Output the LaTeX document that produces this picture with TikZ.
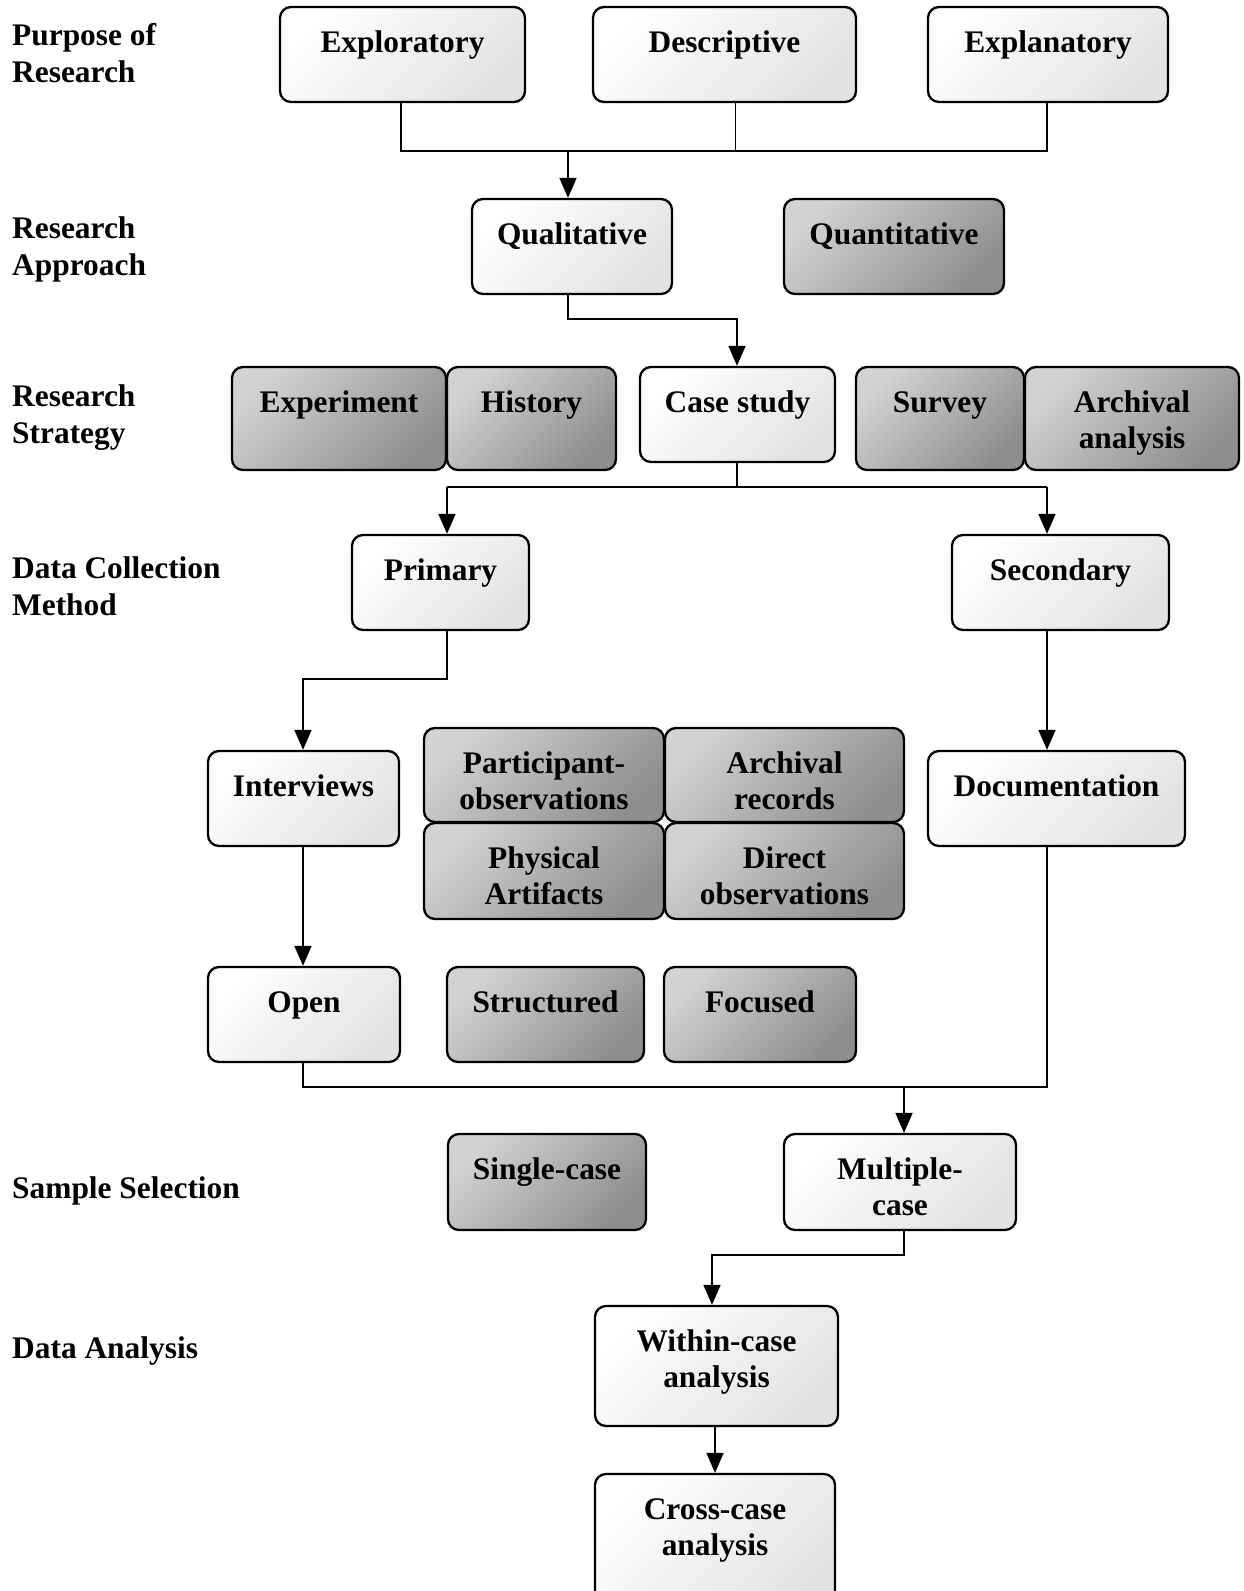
\documentclass[tikz,border=0pt]{standalone}
\usepackage{fontspec}
\setmainfont{Liberation Serif}
\usetikzlibrary{arrows.meta,calc}
\definecolor{lightA}{HTML}{FFFFFF}
\definecolor{lightB}{HTML}{E2E2E2}
\definecolor{darkA}{HTML}{D2D2D2}
\definecolor{darkB}{HTML}{8E8E8E}
\tikzset{
  boxbase/.style={draw=black, line width=2.3pt, rounded corners=11pt, inner sep=0pt, shading=axis, shading angle=45},
  lightbox/.style={boxbase, top color=lightA, bottom color=lightB, shading angle=45},
  darkbox/.style={boxbase, top color=darkA, bottom color=darkB, shading angle=45},
  txt/.style={font=\bfseries\fontsize{31.4pt}{36.5pt}\selectfont, align=center, inner sep=0pt},
  lbl/.style={font=\bfseries\fontsize{31.4pt}{36.5pt}\selectfont, align=left, inner sep=0pt, anchor=base west},
  conn/.style={line width=1.8pt, draw=black},
  arr/.style={conn, -{Triangle[length=20pt,width=17pt]}}
}
% optional #1 = number of text lines minus one
\newcommand\mybox[8][0]{%
  \node[#3, minimum width={(#6-#4)*1pt}, minimum height={(#7-#5)*1pt}] (#2) at ({(#4+#6)/2},{(#5+#7)/2}) {};
  \node[txt, anchor=base] (#2t) at ({(#4+#6)/2},{#5+45+36.5*#1}) {#8};
}
\begin{document}
\begin{tikzpicture}[x=1pt,y=-1pt]
\useasboundingbox (0,0) rectangle (1244,1591);
\clip (0,0) rectangle (1244,1591);
\fill[white] (0,0) rectangle (1244,1591);

% left labels (anchored at the baseline of the last line)
\node[lbl] (l1) at (12,82) {Purpose of\\Research};
\node[lbl] (l2) at (12,275) {Research\\Approach};
\node[lbl] (l3) at (12,443) {Research\\Strategy};
\node[lbl] (l4) at (12,615) {Data Collection\\Method};
\node[lbl] (l5) at (12,1198) {Sample Selection};
\node[lbl] (l6) at (12,1358) {Data Analysis};

% boxes
\mybox{expl}{lightbox}{280}{7}{525}{102}{Exploratory}
\mybox{desc}{lightbox}{593}{7}{856}{102}{Descriptive}
\mybox{expn}{lightbox}{928}{7}{1168}{102}{Explanatory}

\mybox{qual}{lightbox}{472}{199}{672}{294}{Qualitative}
\mybox{quan}{darkbox}{784}{199}{1004}{294}{Quantitative}

\mybox{expe}{darkbox}{232}{367}{446}{470}{Experiment}
\mybox{hist}{darkbox}{447}{367}{616}{470}{History}
\mybox{case}{lightbox}{640}{367}{835}{462}{Case study}
\mybox{surv}{darkbox}{856}{367}{1024}{470}{Survey}
\mybox[1]{arch}{darkbox}{1025}{367}{1239}{470}{Archival\\analysis}

\mybox{prim}{lightbox}{352}{535}{529}{630}{Primary}
\mybox{seco}{lightbox}{952}{535}{1169}{630}{Secondary}

\mybox{intv}{lightbox}{208}{751}{399}{846}{Interviews}
\mybox[1]{part}{darkbox}{424}{728}{664}{822}{Participant-\\observations}
\mybox[1]{arec}{darkbox}{665}{728}{904}{822}{Archival\\records}
\mybox[1]{phys}{darkbox}{424}{823}{664}{919}{Physical\\Artifacts}
\mybox[1]{dire}{darkbox}{665}{823}{904}{919}{Direct\\observations}
\mybox{docu}{lightbox}{928}{751}{1185}{846}{Documentation}

\mybox{open}{lightbox}{208}{967}{400}{1062}{Open}
\mybox{stru}{darkbox}{447}{967}{644}{1062}{Structured}
\mybox{focu}{darkbox}{664}{967}{856}{1062}{Focused}

\mybox{sing}{darkbox}{448}{1134}{646}{1230}{Single-case}
\mybox[1]{mult}{lightbox}{784}{1134}{1016}{1230}{Multiple-\\case}

\mybox[1]{with}{lightbox}{595}{1306}{838}{1426}{Within-case\\analysis}
\mybox[1]{cros}{lightbox}{595}{1474}{835}{1610}{Cross-case\\analysis}

% bus coordinates
\coordinate (b1) at (401,151);
\coordinate (b2) at (1047,151);
\coordinate (b3) at (568,151);
\coordinate (b4) at (447,487);
\coordinate (b5) at (1047,487);
\coordinate (b6) at (303,1087);
\coordinate (b7) at (1047,1087);
\coordinate (b8) at (904,1087);
\coordinate (b9) at (712,1255);
\coordinate (b10) at (715,0);
\coordinate (b11) at (737,319);
\coordinate (b12) at (303,679);

% connectors
\draw[conn] (expl.south -| b1) -- (b1) -- (b2) -- (expn.south -| b2);
\draw[conn] ([xshift=11pt]desc.south) -- ([xshift=11pt]desc.south |- b1);
\draw[arr] (b3) -- (qual.north -| b3);

\draw[arr] (qual.south -| b3) |- (b11) -- (case.north -| b11);
\draw[conn] (case.south -| b11) -- (b11 |- b4);
\draw[conn] (b4) -- (b5);
\draw[arr] (b4) -- (prim.north -| b4);
\draw[arr] (b5) -- (seco.north -| b5);

\draw[arr] (prim.south -| b4) |- (b12) -- (intv.north -| b12);
\draw[arr] (seco.south -| b5) -- (docu.north -| b5);
\draw[arr] (intv.south -| b6) -- (open.north -| b6);

\draw[conn] (open.south -| b6) -- (b6) -- (b7) -- (docu.south -| b7);
\draw[arr] (b8) -- (mult.north -| b8);

\draw[arr] (mult.south -| b8) |- (b9) -- (with.north -| b9);
\draw[arr] (with.south -| b10) -- (cros.north -| b10);
\end{tikzpicture}
\end{document}
